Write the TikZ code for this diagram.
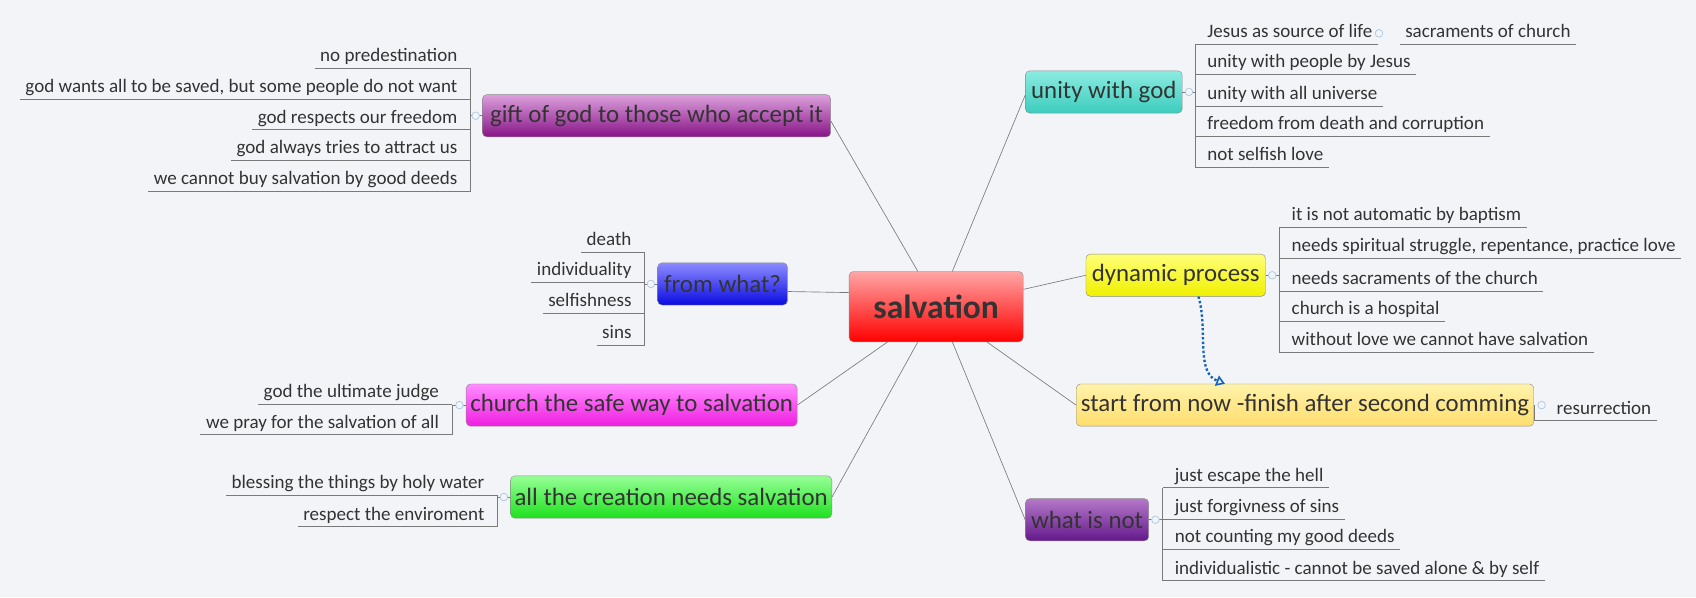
\documentclass[tikz,border=0pt]{standalone}
\usepackage{fontspec}
\setmainfont{Carlito}
\usetikzlibrary{calc,arrows.meta}
\definecolor{bg}{HTML}{F2F4F7}
\definecolor{tx}{HTML}{333333}
\definecolor{ln}{HTML}{7A7A7A}
\definecolor{mk}{HTML}{A8C4E0}
\begin{document}
\begin{tikzpicture}[x=1pt,y=-1pt,
  mainbox/.style={draw=black!45,rounded corners=4pt,inner sep=0pt,text=tx,font=\fontsize{23}{25}\selectfont,minimum height=39pt},
  cl/.style={anchor=south east,inner xsep=5pt,inner ysep=2pt,text height=12pt,text depth=4pt,text=tx,font=\fontsize{17.6}{19}\selectfont},
  cr/.style={anchor=south west,inner xsep=5pt,inner ysep=2pt,text height=12pt,text depth=4pt,text=tx,font=\fontsize{17.6}{19}\selectfont},
  link/.style={draw=ln,line width=0.6pt},
  uline/.style={draw=ln,line width=0.7pt},
  marker/.style={circle,draw=mk,fill=bg,inner sep=0pt,minimum size=7pt,line width=0.6pt}]
\fill[bg] (0,0) rectangle (1568,552);
\useasboundingbox (0,0) rectangle (1568,552);

% central
\node[mainbox,top color=red!35,bottom color=red,minimum width=161pt,minimum height=65pt,font=\bfseries\fontsize{31}{34}\selectfont] (sal) at (865.5,283.5) {salvation};

% main topics
\node[mainbox,top color={rgb,255:red,220;green,160;blue,220},bottom color={rgb,255:red,135;green,20;blue,135},minimum width=322pt] (gift) at (607,107) {gift of god to those who accept it};
\node[mainbox,top color={rgb,255:red,140;green,140;blue,255},bottom color={rgb,255:red,10;green,10;blue,225},minimum width=120pt] (from) at (668,262.5) {from what?};
\node[mainbox,top color={rgb,255:red,255;green,140;blue,255},bottom color={rgb,255:red,240;green,30;blue,225},minimum width=306pt] (church) at (584,374.5) {church the safe way to salvation};
\node[mainbox,top color={rgb,255:red,150;green,255;blue,150},bottom color={rgb,255:red,30;green,225;blue,30},minimum width=297pt] (crea) at (620.5,459.5) {all the creation needs salvation};
\node[mainbox,top color={rgb,255:red,140;green,235;blue,225},bottom color={rgb,255:red,60;green,205;blue,190},minimum width=145pt] (unity) at (1020.5,85) {unity with god};
\node[mainbox,top color={rgb,255:red,255;green,255;blue,120},bottom color={rgb,255:red,240;green,240;blue,0},minimum width=166pt] (dyn) at (1087,254.5) {dynamic process};
\node[mainbox,top color={rgb,255:red,255;green,242;blue,170},bottom color={rgb,255:red,255;green,222;blue,110},minimum width=423pt] (start) at (1206.5,374.5) {start from now -finish after second comming};
\node[mainbox,top color={rgb,255:red,180;green,120;blue,200},bottom color={rgb,255:red,100;green,25;blue,140},minimum width=114pt] (what) at (1005,480.5) {what is not};

% connectors from centre
\draw[link] ($(sal.north)+(-17,0)$) -- ($(gift.east)+(0,5)$);
\draw[link] ($(sal.north)+(15,0)$) -- ($(unity.west)+(0,3)$);
\draw[link] ($(sal.west)+(0,-13)$) -- ($(from.east)+(0,7)$);
\draw[link] ($(sal.south)+(-45,0)$) -- (church.east);
\draw[link] ($(sal.south)+(-17,0)$) -- (crea.east);
\draw[link] ($(sal.east)+(0,-16)$) -- (dyn.west);
\draw[link] ($(sal.south)+(47,0)$) -- (start.west);
\draw[link] ($(sal.south)+(15,0)$) -- (what.west);

% dotted relation
\draw[draw={rgb,255:red,20;green,100;blue,190},line width=2.2pt,dotted,-{Triangle[open,length=8pt,width=10pt,line width=1.5pt]}]
  ($(dyn.south)+(21,0)$) .. controls ($(dyn.south)+(30,30)$) and ($(dyn.south)+(18,70)$) .. ($(start.north)+(-74,0)$);

% ---- gift children (left)
\coordinate (gb) at (435,0);
\node[cl] (g1) at (428,63) {no predestination};
\node[cl] (g2) at (428,92) {god wants all to be saved, but some people do not want};
\node[cl] (g3) at (428,120) {god respects our freedom};
\node[cl] (g4) at (428,148) {god always tries to attract us};
\node[cl] (g5) at (428,177) {we cannot buy salvation by good deeds};
\foreach \n in {g1,g2,g3,g4,g5} \draw[uline] (\n.south west) -- (\n.south west -| gb);
\draw[uline] (g1.south west -| gb) -- (g5.south west -| gb);
\draw[uline] (gift.west) -- (gift.west -| gb);
\node[marker] (gm) at ($(gift.west)+(-6,0)$) {};

% ---- from what children
\coordinate (fb) at (596,0);
\node[cl] (f1) at (589,233) {death};
\node[cl] (f2) at (589,261) {individuality};
\node[cl] (f3) at (589,290) {selfishness};
\node[cl] (f4) at (589,319) {sins};
\foreach \n in {f1,f2,f3,f4} \draw[uline] (\n.south west) -- (\n.south west -| fb);
\draw[uline] (f1.south west -| fb) -- (f4.south west -| fb);
\draw[uline] (from.west) -- (from.west -| fb);
\node[marker] (fm) at ($(from.west)+(-6,0)$) {};

% ---- church children
\coordinate (cb) at (418,0);
\node[cl] (c1) at (411,374) {god the ultimate judge};
\node[cl] (c2) at (411,402) {we pray for the salvation of all};
\foreach \n in {c1,c2} \draw[uline] (\n.south west) -- (\n.south west -| cb);
\draw[uline] (c1.south west -| cb) -- (c2.south west -| cb);
\draw[uline] (church.west) -- (church.west -| cb);
\node[marker] (cm) at ($(church.west)+(-6,0)$) {};

% ---- creation children
\coordinate (eb) at (460,0);
\node[cl] (e1) at (453,458) {blessing the things by holy water};
\node[cl] (e2) at (453,487) {respect the enviroment};
\foreach \n in {e1,e2} \draw[uline] (\n.south west) -- (\n.south west -| eb);
\draw[uline] (e1.south west -| eb) -- (e2.south west -| eb);
\draw[uline] (crea.west) -- (crea.west -| eb);
\node[marker] (em) at ($(crea.west)+(-6,0)$) {};

% ---- unity children (right)
\coordinate (ub) at (1105,0);
\node[cr] (u1) at (1111,41) {Jesus as source of life};
\node[cr] (u1a) at (1294,41) {sacraments of church};
\node[cr] (u2) at (1111,69) {unity with people by Jesus};
\node[cr] (u3) at (1111,98) {unity with all universe};
\node[cr] (u4) at (1111,126) {freedom from death and corruption};
\node[cr] (u5) at (1111,155) {not selfish love};
\foreach \n in {u1,u2,u3,u4,u5} \draw[uline] (\n.south east) -- (\n.south east -| ub);
\draw[uline] (u1a.south west) -- (u1a.south east);
\draw[uline] (u1.south east -| ub) -- (u5.south east -| ub);
\draw[uline] (unity.east) -- (unity.east -| ub);
\node[marker] (um) at ($(unity.east)+(6,0)$) {};
\node[marker] (u1m) at ($(u1.east)+(1,0)$) {};

% ---- dynamic children
\coordinate (db) at (1183,0);
\node[cr] (d1) at (1189,210) {it is not automatic by baptism};
\node[cr] (d2) at (1189,239) {needs spiritual struggle, repentance, practice love};
\node[cr] (d3) at (1189,269) {needs sacraments of the church};
\node[cr] (d4) at (1189,297) {church is a hospital};
\node[cr] (d5) at (1189,326) {without love we cannot have salvation};
\foreach \n in {d1,d2,d3,d4,d5} \draw[uline] (\n.south east) -- (\n.south east -| db);
\draw[uline] (d1.south east -| db) -- (d5.south east -| db);
\draw[uline] (dyn.east) -- (dyn.east -| db);
\node[marker] (dm) at ($(dyn.east)+(6,0)$) {};

% ---- start child
\node[cr] (s1) at (1434,389) {resurrection};
\draw[uline] (s1.south east) -- (s1.south east -| start.east) -- (start.east);
\node[marker] (sm) at ($(start.east)+(7,0)$) {};

% ---- what is not children
\coordinate (wb) at (1075,0);
\node[cr] (w1) at (1081,451) {just escape the hell};
\node[cr] (w2) at (1081,480) {just forgivness of sins};
\node[cr] (w3) at (1081,508) {not counting my good deeds};
\node[cr] (w4) at (1081,537) {individualistic - cannot be saved alone \& by self};
\foreach \n in {w1,w2,w3,w4} \draw[uline] (\n.south east) -- (\n.south east -| wb);
\draw[uline] (w1.south east -| wb) -- (w4.south east -| wb);
\draw[uline] (what.east) -- (what.east -| wb);
\node[marker] (wm) at ($(what.east)+(6,0)$) {};
\end{tikzpicture}
\end{document}
